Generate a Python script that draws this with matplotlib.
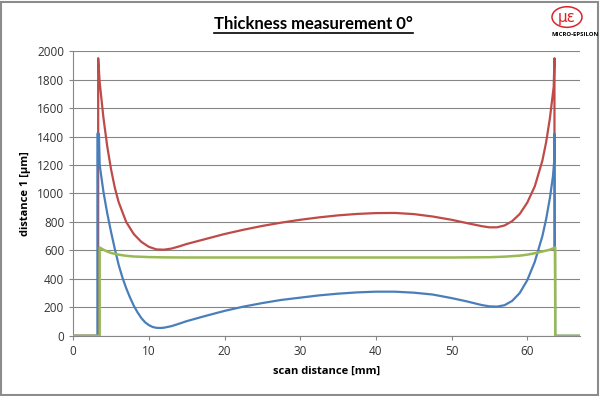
import matplotlib.pyplot as plt
from matplotlib.patches import Rectangle, Ellipse

# scan distance [mm] vs distance 1 [um]
red_x = [0, 3.2, 3.3, 3.3, 3.5, 4, 4.5, 5, 5.5, 6, 7, 8, 9, 10, 11, 12, 13, 14, 15, 17.5, 20, 22.5, 25,
         27.5, 30, 32.5, 35, 37.5, 40, 42.5, 45, 47.5, 50, 52, 54, 55, 56, 57, 58, 59, 60, 61, 62, 62.5,
         63, 63.5, 63.6, 63.6]
red_y = [0, 0, 0, 1950, 1780, 1530, 1330, 1170, 1040, 940, 800, 715, 660, 625, 607, 605, 613, 628, 645,
         680, 715, 745, 772, 795, 815, 832, 846, 856, 862, 863, 855, 838, 815, 792, 770, 762, 762, 775,
         805, 855, 935, 1050, 1230, 1360, 1530, 1750, 1950, 610]
blue_x = [0, 3.2, 3.2, 3.4, 3.5, 4, 4.5, 5, 5.5, 6, 6.5, 7, 7.5, 8, 8.5, 9, 9.5, 10, 10.5, 11, 11.5, 12,
          13, 14, 15, 17.5, 20, 22.5, 25, 27.5, 30, 32.5, 35, 37.5, 40, 42.5, 45, 47.5, 50, 52, 54, 55,
          56, 57, 58, 59, 60, 61, 62, 62.5, 63, 63.4, 63.6, 63.6, 63.7, 67]
blue_y = [0, 0, 1420, 1420, 1200, 1010, 860, 730, 610, 500, 410, 335, 270, 212, 165, 125, 95, 75, 62,
          56, 55, 57, 68, 85, 103, 140, 175, 205, 230, 252, 268, 284, 296, 305, 310, 310, 303, 290, 265,
          242, 216, 207, 205, 215, 245, 300, 390, 520, 700, 820, 970, 1120, 1250, 1420, 0, 0]
green_x = [0, 3.5, 3.5, 4, 4.5, 5, 6, 7, 8, 10, 12, 15, 20, 30, 40, 50, 55, 57, 59, 60, 61, 62, 63,
           63.7, 63.7, 67]
green_y = [0, 0, 620, 605, 592, 582, 570, 562, 557, 553, 551, 550, 550, 550, 550, 550, 552, 556, 563,
           570, 580, 592, 605, 620, 0, 0]

x_ticks = [0, 10, 20, 30, 40, 50, 60]
y_ticks = [0, 200, 400, 600, 800, 1000, 1200, 1400, 1600, 1800, 2000]

plt.rcParams['font.family'] = ['Open Sans', 'DejaVu Sans']

fig = plt.figure(figsize=(6, 3.96), dpi=100)
ax = fig.add_axes([0.122, 0.152, 0.845, 0.719])

ax.plot(red_x, red_y, color='#BE4B48', lw=1.6, zorder=2)
ax.plot(blue_x, blue_y, color='#4A7EBB', lw=1.6, zorder=3)
ax.plot(green_x, green_y, color='#98B954', lw=1.8, zorder=4)

ax.set_xlim(0, 67)
ax.set_ylim(0, 2000)
ax.set_xticks(x_ticks)
ax.set_yticks(y_ticks)
ax.tick_params(labelsize=8.5, colors='#333333', length=3, width=0.8)
ax.tick_params(axis='both', color='#868686')
ax.grid(axis='y', color='#868686', lw=0.8)
ax.set_axisbelow(True)
for s in ['top', 'right']:
    ax.spines[s].set_visible(False)
for s in ['left', 'bottom']:
    ax.spines[s].set_color('#868686')

ax.set_xlabel('scan distance [mm]', fontsize=8, fontweight='bold', labelpad=6)
ax.set_ylabel('distance 1 [µm]', fontsize=8, fontweight='bold', labelpad=4)

title = fig.text(0.523, 0.94, 'Thickness measurement 0°', ha='center', va='center', fontsize=12,
                 fontweight='bold', family='Lato')
# underline under the title
fig.canvas.draw()
bb = title.get_window_extent().transformed(fig.transFigure.inverted())
fig.add_artist(plt.Line2D([bb.x0, bb.x1], [bb.y0 - 0.004, bb.y0 - 0.004], color='black', lw=1.2))

# logo
fig.add_artist(Ellipse((0.945, 0.957), 0.05, 0.052, fill=False, ec='#D9262B', lw=1.1))
fig.text(0.945, 0.955, 'με', color='#D9262B', ha='center', va='center', fontsize=11,
         family='DejaVu Sans')
fig.text(0.958, 0.912, 'MICRO-EPSILON', ha='center', va='center', fontsize=4.3, fontweight='bold')

fig.add_artist(Rectangle((0.002, 0.003), 0.995, 0.993, transform=fig.transFigure, fill=False,
                         ec='#8C8C8C', lw=1.5))

fig.savefig('out.png', dpi=100)
